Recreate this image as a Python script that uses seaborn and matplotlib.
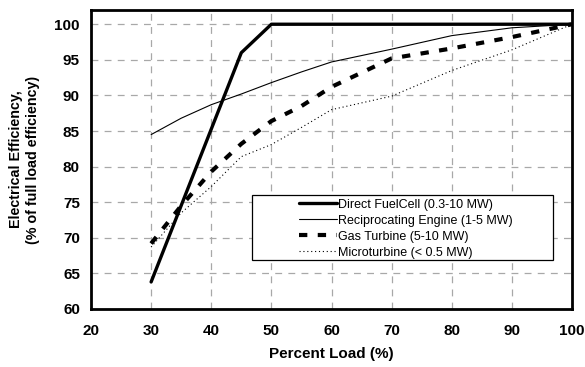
import matplotlib
matplotlib.use("Agg")
import matplotlib.pyplot as plt
import seaborn as sns
import pandas as pd
from matplotlib.patches import Rectangle

sns.set_style("white")
plt.rcParams['font.family'] = ['Liberation Sans', 'DejaVu Sans']
plt.rcParams['text.color'] = 'black'
plt.rcParams['axes.labelcolor'] = 'black'
plt.rcParams['xtick.color'] = 'black'
plt.rcParams['ytick.color'] = 'black'

fc_load = [30, 45, 50, 100]
fc_eff = [63.8, 96.0, 100.0, 100.0]

re_load = [30, 35, 40, 45, 50, 55, 60, 70, 80, 90, 100]
re_eff = [84.5, 86.8, 88.7, 90.2, 91.8, 93.3, 94.7, 96.5, 98.4, 99.5, 100.0]

gt_load = [30, 35, 40, 45, 50, 55, 60, 70, 80, 90, 100]
gt_eff = [69.2, 74.5, 79.3, 83.2, 86.4, 88.5, 91.2, 95.2, 96.6, 98.2, 100.0]

mt_load = [30, 35, 40, 45, 50, 55, 60, 70, 80, 90, 100]
mt_eff = [68.7, 73.5, 77.2, 81.4, 83.1, 85.5, 88.0, 89.9, 93.5, 96.4, 100.0]

labels = ["Direct FuelCell (0.3-10 MW)", "Reciprocating Engine (1-5 MW)",
          "Gas Turbine (5-10 MW)", "Microturbine (< 0.5 MW)"]

fig = plt.figure(figsize=(5.85, 3.67), dpi=100)
ax = fig.add_axes([91/585, 1-309/367, 481/585, 299/367])

ax.grid(True, color="#a8a8a8", linestyle=(0, (5.5, 5)), linewidth=0.9)
ax.set_axisbelow(True)

sns.lineplot(x=fc_load, y=fc_eff, ax=ax, color="black", linewidth=2.4, label=labels[0])
sns.lineplot(x=re_load, y=re_eff, ax=ax, color="black", linewidth=0.8, label=labels[1])
sns.lineplot(x=gt_load, y=gt_eff, ax=ax, color="black", linewidth=3.0,
             linestyle=(0, (2, 2.5)), label=labels[2])
sns.lineplot(x=mt_load, y=mt_eff, ax=ax, color="black", linewidth=0.8,
             linestyle=(0, (1, 2.5)), label=labels[3])

ax.set_xlim(20, 100)
ax.set_ylim(60, 102)
ax.set_xticks(range(20, 101, 10))
ax.set_yticks(range(60, 101, 5))
for s in ax.spines.values():
    s.set_color("black")
    s.set_linewidth(2.0)
ax.tick_params(axis="both", direction="out", length=4, width=0.8, color="black",
               labelsize=11, pad=4, labelcolor="black")
for lab in ax.get_xticklabels() + ax.get_yticklabels():
    lab.set_fontweight("bold")
ax.xaxis.set_tick_params(pad=7)
ax.set_xlabel("Percent Load (%)", fontsize=11, fontweight="bold", labelpad=6)
ax.set_ylabel("Electrical Efficiency,\n(% of full load efficiency)", fontsize=10.3,
              fontweight="bold", labelpad=10, linespacing=1.3)

# legend frame
x0 = (251.5 - 91) / 481
x1 = (552.5 - 91) / 481
y0 = (309 - 260) / 299
y1 = (309 - 195) / 299
ax.add_patch(Rectangle((x0, y0), x1 - x0, y1 - y0, transform=ax.transAxes,
                       facecolor="white", edgecolor="black", linewidth=0.9, zorder=4))
leg = ax.legend(loc="upper left", bbox_to_anchor=((296 - 91) / 481, y1 - 0.004),
                frameon=False, fontsize=9, handlelength=3.1, handletextpad=0.1,
                labelspacing=0.32, borderaxespad=0, borderpad=0.2)
leg.set_zorder(5)

fig.savefig("out.png", dpi=100)
